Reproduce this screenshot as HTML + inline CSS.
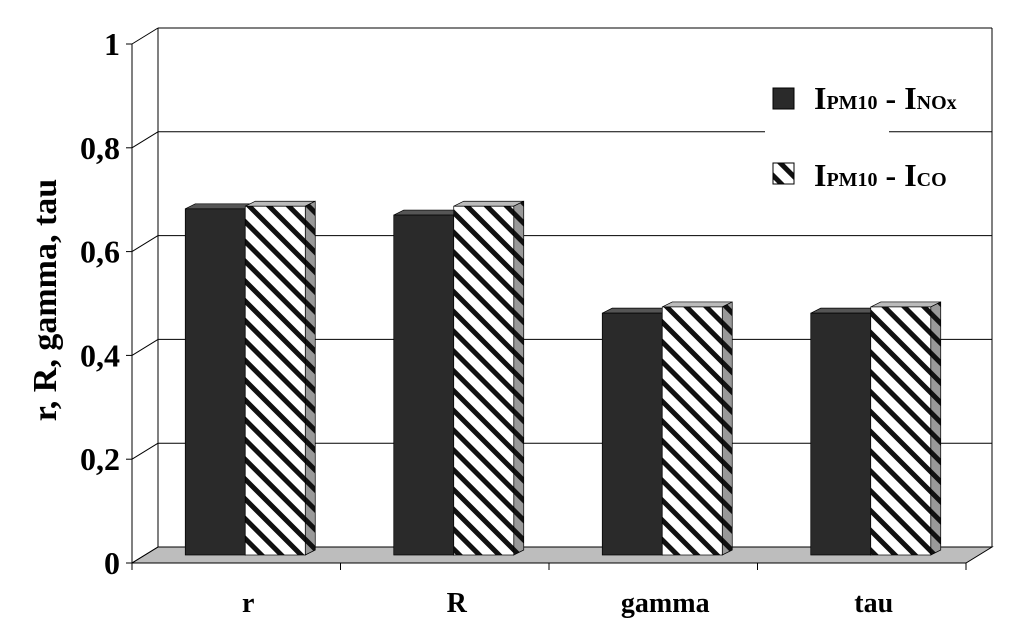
<!DOCTYPE html>
<html><head><meta charset="utf-8"><style>
body{margin:0;background:#fff}
text{font-family:"Liberation Serif",serif;font-weight:bold}
</style></head><body>
<svg id="c" width="1020" height="621" viewBox="0 0 1020 621" xmlns="http://www.w3.org/2000/svg">
<defs>
<pattern id="hatch" patternUnits="userSpaceOnUse" width="14" height="14" patternTransform="rotate(-45)">
<rect width="14" height="14" fill="#fff"/><rect x="0" y="0" width="5" height="14" fill="#111"/>
</pattern>
<pattern id="hatchSide" patternUnits="userSpaceOnUse" width="14" height="14" patternTransform="rotate(-45)">
<rect width="14" height="14" fill="#999"/><rect x="0" y="0" width="5" height="14" fill="#111"/>
</pattern>
</defs>
<g id="axes"></g>
<g id="bars"></g>
<text transform="translate(56,300) rotate(-90)" text-anchor="middle" font-size="34">r, R, gamma, tau</text>
<g>
<rect x="765" y="68" width="124" height="140" fill="#fff"/>
<rect x="773" y="88" width="21" height="21" fill="#2a2a2a" stroke="#000"/>
<text x="814" y="109" font-size="32">I<tspan font-size="20">PM10</tspan> - I<tspan font-size="20">NOx</tspan></text>
<rect x="773" y="163" width="21" height="21" fill="url(#hatch)" stroke="#000"/>
<text x="814" y="186" font-size="32">I<tspan font-size="20">PM10</tspan> - I<tspan font-size="20">CO</tspan></text>
</g>
</svg>
<script>
const categories=["r","R","gamma","tau"];
const seriesNOx=[0.667,0.655,0.466,0.466];
const seriesCO=[0.672,0.672,0.478,0.478];
const yTicks=[0,0.2,0.4,0.6,0.8,1];
const yTickLabels=["0","0,2","0,4","0,6","0,8","1"];
const NS="http://www.w3.org/2000/svg";
const X0=132,X1=966,DX=26,DY=-16,Y0=563,H=519;
const yFront=v=>Y0-v*H;
const yBar=v=>555-v*H;
const ax=document.getElementById('axes'),bg=document.getElementById('bars');
function mk(p,tag,a){const e=document.createElementNS(NS,tag);for(const k in a)e.setAttribute(k,a[k]);p.appendChild(e);return e;}
let e;
e=mk(ax,'polygon',{points:`${X0},${Y0} ${X1},${Y0} ${X1+DX},${Y0+DY} ${X0+DX},${Y0+DY}`,fill:'#bdbdbd',stroke:'#000'});


e=mk(ax,'line',{x1:X0+DX,y1:yFront(1)+DY,x2:X0+DX,y2:Y0+DY,stroke:'#000'});


e=mk(ax,'line',{x1:X1+DX,y1:yFront(1)+DY,x2:X1+DX,y2:Y0+DY,stroke:'#000'});


yTicks.forEach((v,i)=>{
 const y=yFront(v);
 if(v>0){e=mk(ax,'line',{x1:X0+DX,y1:y+DY,x2:X1+DX,y2:y+DY,stroke:'#000'});
 
 }
 e=mk(ax,'line',{x1:X0,y1:y,x2:X0+DX,y2:y+DY,stroke:'#000'});
 
 
 e=mk(ax,'line',{x1:X0-6,y1:y,x2:X0,y2:y,stroke:'#000'});
 
 
 e=mk(ax,'text',{x:X0-12,y:y+11,'text-anchor':'end','font-size':'32'});
 e.textContent=yTickLabels[i];
 
 
});
e=mk(ax,'line',{x1:X0,y1:yFront(1),x2:X0,y2:Y0,stroke:'#000'});


const cw=(X1-X0)/categories.length;
for(let i=0;i<=categories.length;i++){
 e=mk(ax,'line',{x1:X0+i*cw,y1:Y0,x2:X0+i*cw,y2:Y0+7,stroke:'#000'});
 
 
}
categories.forEach((c,i)=>{
 const cx=X0+(i+0.5)*cw;
 e=mk(ax,'text',{x:cx+12,y:612,'text-anchor':'middle','font-size':'28'});
 e.textContent=c;
 
 
 const bw=60,d=10,dd=-5,base=555;
 [[seriesNOx[i],'#2a2a2a','#555','#111','bar-nox'],[seriesCO[i],'url(#hatch)','#bbb','url(#hatchSide)','bar-co']].forEach((s,k)=>{
  const x=cx-bw+k*bw+9,yt=yBar(s[0]);
  const g=mk(bg,'g',{});
  
  
  mk(g,'polygon',{points:`${x},${yt} ${x+d},${yt+dd} ${x+bw+d},${yt+dd} ${x+bw},${yt}`,fill:s[2],stroke:'#000','stroke-width':0.7});
  mk(g,'polygon',{points:`${x+bw},${yt} ${x+bw+d},${yt+dd} ${x+bw+d},${base+dd} ${x+bw},${base}`,fill:s[3],stroke:'#000','stroke-width':0.7});
  mk(g,'rect',{x:x,y:yt,width:bw,height:base-yt,fill:s[1],stroke:'#000','stroke-width':0.7});
 });
});
</script>
</body></html>
